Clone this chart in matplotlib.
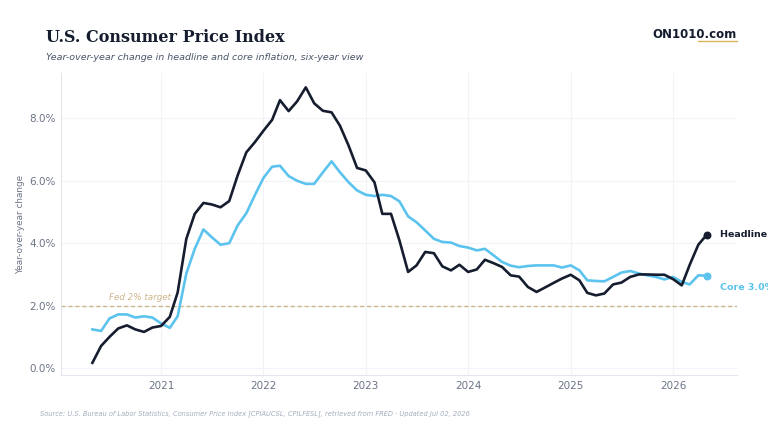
import matplotlib
matplotlib.use("Agg")
import matplotlib.pyplot as plt
import matplotlib.dates as mdates
import pandas as pd
from matplotlib.lines import Line2D

# monthly, May 2020 .. May 2026
months = pd.date_range("2020-05-01", "2026-05-01", freq="MS")

headline = [0.17, 0.71, 1.00, 1.27, 1.37, 1.24, 1.16, 1.30,
            1.35, 1.64, 2.42, 4.14, 4.94, 5.29, 5.24, 5.15, 5.35, 6.17, 6.91, 7.23,
            7.60, 7.95, 8.58, 8.23, 8.54, 8.99, 8.48, 8.24, 8.19, 7.76, 7.12, 6.41,
            6.33, 5.95, 4.94, 4.94, 4.09, 3.08, 3.29, 3.72, 3.68, 3.26, 3.13, 3.31,
            3.08, 3.16, 3.47, 3.36, 3.24, 2.97, 2.93, 2.60, 2.44, 2.58, 2.73, 2.87,
            2.99, 2.81, 2.41, 2.33, 2.39, 2.68, 2.74, 2.92, 3.00, 3.00, 2.99, 2.99,
            2.85, 2.65, 3.30, 3.95, 4.27]
core = [1.24, 1.19, 1.59, 1.72, 1.72, 1.62, 1.66, 1.62,
        1.43, 1.29, 1.66, 3.03, 3.82, 4.44, 4.19, 3.95, 4.00, 4.57, 4.96, 5.53,
        6.09, 6.45, 6.48, 6.15, 6.00, 5.90, 5.90, 6.27, 6.62, 6.27, 5.95, 5.69,
        5.55, 5.51, 5.55, 5.51, 5.34, 4.86, 4.67, 4.41, 4.14, 4.04, 4.02, 3.91,
        3.86, 3.77, 3.82, 3.61, 3.40, 3.28, 3.23, 3.27, 3.29, 3.29, 3.29, 3.22,
        3.29, 3.13, 2.81, 2.79, 2.78, 2.92, 3.06, 3.11, 3.03, 2.97, 2.92, 2.84,
        2.92, 2.76, 2.68, 2.97, 2.96]

target = 2.0
yticks = [0, 2, 4, 6, 8]

navy = "#151d2f"
blue = "#5bc3ee"
tan = "#cdb58a"
slate = "#6b7486"

fig = plt.figure(figsize=(7.68, 4.32), dpi=100)
ax = fig.add_axes([61 / 768, 1 - 375 / 432, 676 / 768, 302 / 432])

ax.plot(months, headline, color=navy, lw=1.9, solid_joinstyle="round", zorder=4)
ax.plot(months, core, color=blue, lw=1.9, solid_joinstyle="round", zorder=3)
ax.scatter([months[-1]], [headline[-1]], s=22, color=navy, zorder=5)
ax.scatter([months[-1]], [core[-1]], s=22, color=blue, zorder=5)

# end labels run off the right edge, as in the original
ax.annotate(f"Headline {headline[-1]:.1f}%", (months[-1], headline[-1]),
            xytext=(9.5, 0), textcoords="offset points", va="center",
            fontsize=6.8, fontweight="bold", color=navy, annotation_clip=False)
ax.annotate(f"Core {core[-1]:.1f}%", (months[-1], core[-1]),
            xytext=(9.5, -8.5), textcoords="offset points", va="center",
            fontsize=6.8, fontweight="bold", color=blue, annotation_clip=False)

ax.axhline(target, color=tan, lw=1.0, ls=(0, (3, 2)), zorder=2)
ax.annotate("Fed 2% target", (0.071, target), xycoords=("axes fraction", "data"),
            xytext=(0, 3), textcoords="offset points", va="bottom",
            fontsize=6.3, style="italic", color=tan)

ax.set_xlim(pd.Timestamp("2020-01-10"), pd.Timestamp("2026-08-17"))
ax.set_ylim(-0.22, 9.45)
ax.set_yticks(yticks)
ax.set_yticklabels([f"{v:.1f}%" for v in yticks])
ax.xaxis.set_major_locator(mdates.YearLocator())
ax.xaxis.set_major_formatter(mdates.DateFormatter("%Y"))

ax.grid(True, color="#f1f3f6", lw=0.8)
ax.set_axisbelow(True)
for s in ["top", "right"]:
    ax.spines[s].set_visible(False)
for s in ["left", "bottom"]:
    ax.spines[s].set_color("#e3e7ee")
    ax.spines[s].set_linewidth(0.8)
ax.tick_params(length=0, labelsize=7.5, labelcolor=slate, pad=4)
ax.set_ylabel("Year-over-year change", fontsize=6.4, color=slate, labelpad=3)

fig.text(46 / 768, 1 - 37 / 432, "U.S. Consumer Price Index", family="DejaVu Serif",
         fontsize=11.5, fontweight="bold", color="#141c2e", va="center")
fig.text(46 / 768, 1 - 58 / 432,
         "Year-over-year change in headline and core inflation, six-year view",
         fontsize=6.8, style="italic", color="#4a5568", va="center")
fig.text(737 / 768, 1 - 35 / 432, "ON1010.com", fontsize=8.5, fontweight="bold",
         color="#141c2e", ha="right", va="center")
fig.add_artist(Line2D([698 / 768, 737 / 768], [1 - 40.5 / 432, 1 - 40.5 / 432],
                      color="#d9b45a", lw=1.0))
fig.text(40 / 768, 1 - 414 / 432,
         "Source: U.S. Bureau of Labor Statistics, Consumer Price Index [CPIAUCSL, CPILFESL], "
         "retrieved from FRED \u00b7 Updated Jul 02, 2026",
         fontsize=4.8, style="italic", color="#a3adbd", va="center")

fig.savefig("out.png", dpi=100, facecolor="white")
